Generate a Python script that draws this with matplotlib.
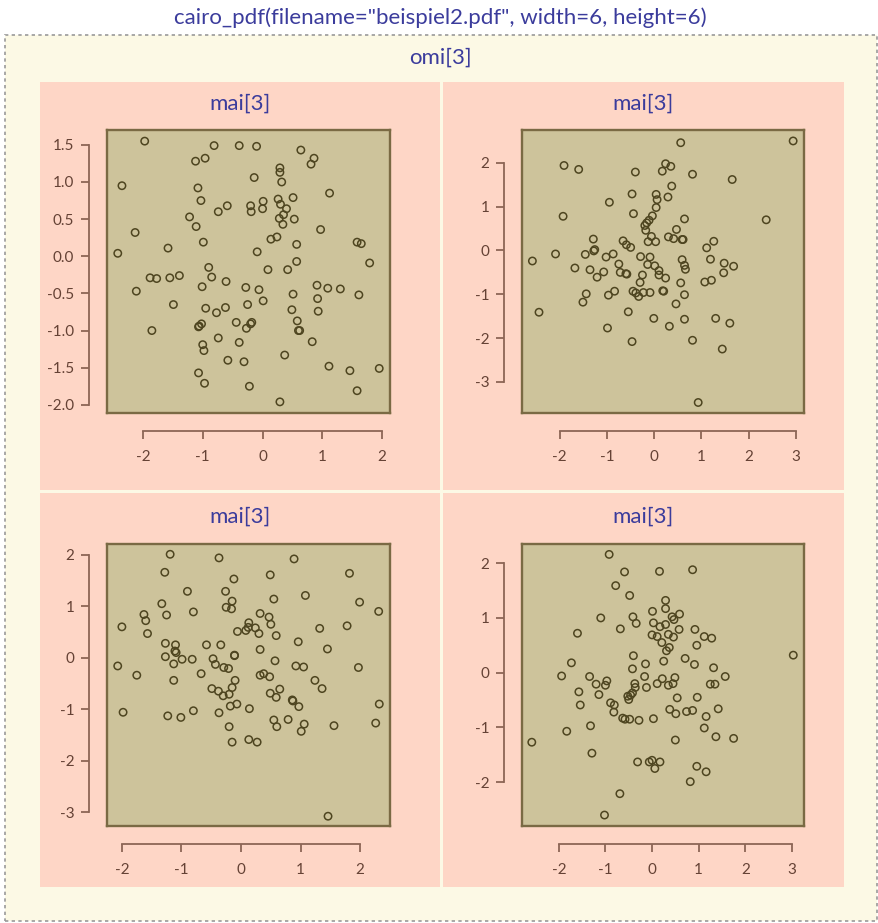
import matplotlib
matplotlib.use('Agg')
import matplotlib.pyplot as plt
from matplotlib.patches import Rectangle

plt.rcParams['font.family'] = ['Lato', 'DejaVu Sans']
plt.rcParams['axes.unicode_minus'] = False

W, H = 879, 923

# ---- data ----
p1_x = [-1.97, -2.35, -2.42, -2.13, -2.11, -1.85, -1.88, -1.77, -1.58, -1.55,
        -1.39, -1.49, -1.12, -0.96, -0.81, -1.08, -1.03, -1.22, -1.11, -0.99,
        -0.74, -0.59, -0.90, -0.85, -1.01, -0.61, -0.95, -0.77, -0.62, -1.07,
        -1.02, -1.06, -1.00, -0.98, -0.74, -1.07, -0.97, -0.58, -0.39, -0.10,
        -0.14, -0.20, -0.19, 0.01, 0.00, -0.09, -0.44, -0.28, -0.25, -0.27,
        -0.20, -0.18, -0.39, -0.31, -0.22, -0.06, 0.01, 0.09, 0.14, 0.24,
        0.29, 0.29, 0.32, 0.26, 0.30, 0.51, 0.40, 0.35, 0.28, 0.34,
        0.53, 0.64, 0.81, 0.86, 1.12, 0.97, 0.57, 0.57, 0.42, 0.51,
        0.49, 0.58, 0.60, 0.62, 0.37, 0.29, 0.91, 0.92, 0.93, 0.83,
        1.09, 1.30, 1.11, 1.58, 1.65, 1.79, 1.61, 1.46, 1.58, 1.95]
p1_y = [1.55, 0.95, 0.04, 0.32, -0.47, -1.00, -0.29, -0.30, 0.11, -0.29,
        -0.26, -0.65, 1.28, 1.32, 1.49, 0.92, 0.75, 0.53, 0.40, 0.19,
        0.60, 0.68, -0.15, -0.28, -0.41, -0.34, -0.70, -0.76, -0.69, -0.95,
        -0.91, -0.94, -1.19, -1.27, -1.10, -1.57, -1.71, -1.40, 1.49, 1.48,
        1.06, 0.68, 0.60, 0.74, 0.64, 0.06, -0.89, -0.42, -0.65, -0.97,
        -0.91, -0.89, -1.16, -1.42, -1.75, -0.45, -0.60, -0.18, 0.23, 0.26,
        1.19, 1.13, 1.00, 0.77, 0.70, 0.79, 0.64, 0.56, 0.51, 0.43,
        0.50, 1.43, 1.24, 1.32, 0.85, 0.36, 0.16, -0.07, -0.18, -0.51,
        -0.72, -0.87, -1.00, -1.00, -1.33, -1.96, -0.39, -0.57, -0.74, -1.15,
        -0.43, -0.44, -1.48, 0.19, 0.17, -0.09, -0.52, -1.54, -1.81, -1.51]

p2_x = [-2.58, -2.44, -2.09, -1.93, -1.91, -1.60, -1.68, -1.46, -1.36, -1.29,
        -1.28, -1.26, -1.21, -1.07, -1.44, -1.51, -1.02, -0.87, -0.95, -0.75,
        -0.72, -0.60, -0.58, -0.97, -0.84, -0.99, -0.66, -0.59, -0.50, -0.47,
        -0.44, -0.40, -0.55, -0.47, -0.45, -0.33, -0.30, -0.25, -0.29, -0.23,
        -0.20, -0.16, -0.11, -0.18, -0.14, -0.09, -0.09, -0.13, -0.06, 0.03,
        -0.04, 0.04, 0.06, 0.04, 0.01, 0.10, 0.10, 0.24, -0.01, 0.18,
        0.20, 0.17, 0.24, 0.35, 0.37, 0.29, 0.30, 0.41, 0.47, 0.59,
        0.61, 0.64, 0.56, 0.81, 0.59, 0.64, 0.66, 0.56, 0.64, 0.46,
        0.32, 0.64, 0.81, 0.93, 1.07, 1.21, 1.11, 1.26, 1.19, 1.48,
        1.47, 1.68, 1.30, 1.60, 1.44, 1.65, 2.37, 2.94, -0.39]
p2_y = [-0.24, -1.41, -0.08, 0.78, 1.94, 1.85, -0.40, -0.09, -0.44, 0.26,
        -0.01, 0.02, -0.61, -0.49, -0.99, -1.18, -0.15, -0.08, 1.10, -0.31,
        -0.50, -0.53, -0.54, -1.02, -0.93, -1.77, 0.22, 0.13, 0.07, 1.29,
        0.84, 1.79, -1.40, -2.08, -0.93, -1.05, -0.73, -0.56, -0.14, -0.96,
        0.57, 0.63, 0.69, 0.46, -0.32, -0.15, -0.96, 0.20, 0.32, 0.20,
        0.79, 0.98, 1.16, 1.28, -0.35, -0.46, -0.56, -0.63, -1.55, -0.92,
        -0.93, 1.81, 1.98, 1.92, 1.47, 1.22, 0.31, 0.27, 0.48, 0.25,
        0.25, 0.72, 2.46, 1.74, -0.21, -0.34, -0.43, -0.74, -1.01, -1.22,
        -1.73, -1.57, -2.05, -3.47, -0.72, -0.68, 0.06, 0.21, -0.20, -0.29,
        -0.51, -0.36, -1.55, -1.66, -2.25, 1.62, 0.70, 2.50, -0.97]

p3_x = [-2.00, -2.07, -1.98, -1.75, -1.63, -1.60, -1.57, -1.33, -1.28, -1.19,
        -1.25, -1.27, -1.27, -1.10, -1.11, -1.09, -1.13, -0.99, -1.13, -1.23,
        -1.01, -0.90, -0.80, -0.82, -0.80, -0.67, -0.58, -0.47, -0.43, -0.34,
        -0.37, -0.26, -0.15, -0.16, -0.25, -0.12, -0.29, -0.21, -0.11, -0.11,
        -0.06, -0.10, -0.15, -0.49, -0.38, -0.30, -0.20, -0.18, -0.07, -0.37,
        -0.20, -0.15, 0.08, 0.13, 0.12, 0.24, 0.30, 0.32, 0.32, 0.14,
        0.13, 0.27, 0.32, 0.38, 0.48, 0.49, 0.47, 0.50, 0.55, 0.59,
        0.57, 0.49, 0.59, 0.65, 0.55, 0.60, 0.79, 0.89, 0.96, 0.92,
        1.05, 1.08, 0.86, 0.87, 0.97, 1.06, 1.01, 1.24, 1.36, 1.32,
        1.45, 1.46, 1.56, 1.78, 1.82, 1.97, 1.99, 2.26, 2.31, 2.32]
p3_y = [0.60, -0.16, -1.06, -0.34, 0.84, 0.72, 0.47, 1.05, 1.66, 2.01,
        0.83, 0.28, 0.02, 0.25, 0.13, 0.10, -0.12, -0.03, -0.44, -1.13,
        -1.16, 1.29, 0.89, -0.03, -1.03, -0.31, 0.25, -0.02, -0.13, 0.25,
        1.94, 1.29, 1.10, 0.95, 0.98, 1.53, -0.19, -0.21, 0.04, 0.05,
        0.51, -0.44, -0.58, -0.60, -0.65, -0.74, -0.71, -0.94, -0.90, -1.07,
        -1.34, -1.64, 0.53, 0.68, 0.59, 0.58, 0.47, 0.86, 0.16, -0.99,
        -1.59, -1.64, -0.34, -0.31, -0.37, 1.61, 0.79, 0.65, 1.14, 0.43,
        -0.06, -0.69, -0.77, -0.61, -1.21, -1.34, -1.20, 1.92, 0.31, -0.16,
        -0.18, 1.21, -0.82, -0.84, -0.95, -1.29, -1.43, -0.44, -0.60, 0.57,
        0.17, -3.08, -1.32, 0.62, 1.64, -0.19, 1.08, -1.27, 0.90, -0.90]

p4_x = [-2.58, -1.94, -1.83, -1.73, -1.60, -1.57, -1.54, -1.34, -1.32, -1.29,
        -1.20, -1.14, -1.10, -1.00, -0.97, -1.02, -0.92, -0.89, -0.81, -0.82,
        -0.78, -0.68, -0.69, -0.63, -0.58, -0.59, -0.48, -0.48, -0.52, -0.50,
        -0.46, -0.42, -0.41, -0.34, -0.40, -0.42, -0.37, -0.36, -0.28, -0.31,
        -0.14, -0.16, -0.12, -0.06, 0.00, 0.06, 0.17, 0.03, 0.01, 0.03,
        0.00, 0.11, 0.17, 0.21, 0.11, 0.22, 0.16, 0.29, 0.29, 0.29,
        0.35, 0.37, 0.31, 0.25, 0.35, 0.45, 0.49, 0.38, 0.51, 0.54,
        0.50, 0.43, 0.47, 0.59, 0.58, 0.46, 0.71, 0.74, 0.87, 0.87,
        0.92, 0.96, 0.91, 0.97, 0.96, 0.82, 1.12, 1.28, 1.32, 1.25,
        1.35, 1.16, 1.12, 1.42, 1.57, 1.37, 1.75, 1.16, 3.03]
p4_y = [-1.27, -0.06, -1.07, 0.18, 0.72, -0.35, -0.59, -0.07, -0.97, -1.47,
        -0.21, -0.40, 1.00, -0.23, -0.15, -2.60, 2.16, -0.55, -0.59, -0.72,
        1.59, 0.80, -2.21, -0.83, -0.85, 1.84, 1.41, -0.85, -0.43, -0.49,
        -0.41, -0.37, 1.02, 0.90, 0.31, 0.07, -0.20, -0.27, -0.87, -1.63,
        0.16, -0.07, -0.27, -1.63, -1.60, -1.75, -1.63, -0.84, 1.12, 0.91,
        0.69, 0.66, 0.84, 0.55, -0.20, -0.11, 1.85, 1.32, 1.17, 0.88,
        0.70, 0.46, 0.40, 0.21, -0.23, -0.20, -0.09, -0.67, -0.75, -0.46,
        -1.23, 1.02, 0.97, 1.07, 0.79, 0.65, 0.26, -0.71, -0.69, 1.88,
        0.79, 0.50, 0.15, -0.45, -1.71, -1.99, 0.66, 0.63, 0.09, -0.21,
        -0.21, -0.80, -1.01, -0.66, -0.07, -1.17, -1.20, -1.81, 0.32]

p1_xticks = [-2, -1, 0, 1, 2]
p1_yticks = [-2.0, -1.5, -1.0, -0.5, 0.0, 0.5, 1.0, 1.5]
p1_ylabels = ['-2.0', '-1.5', '-1.0', '-0.5', '0.0', '0.5', '1.0', '1.5']
p2_xticks = [-2, -1, 0, 1, 2, 3]
p2_yticks = [-3, -2, -1, 0, 1, 2]
p3_xticks = [-2, -1, 0, 1, 2]
p3_yticks = [-3, -2, -1, 0, 1, 2]
p4_xticks = [-2, -1, 0, 1, 2, 3]
p4_yticks = [-2, -1, 0, 1, 2]

title = 'cairo_pdf(filename="beispiel2.pdf", width=6, height=6)'

# colours
white = '#ffffff'
cream = '#fcf9e5'
salmon = '#fed6c6'
khaki = '#cdc39b'
boxedge = '#7a6a44'
axcol = '#8c6656'
labcol = '#654235'
ptcol = '#4e4520'
blue = '#3b3c9c'


def frac(x0, y0, x1, y1):
    return [x0 / W, 1 - y1 / H, (x1 - x0) / W, (y1 - y0) / H]


def rect(x0, y0, x1, y1, **kw):
    l, b, w, h = frac(x0, y0, x1, y1)
    fig.add_artist(Rectangle((l, b), w, h, transform=fig.transFigure, zorder=-10, **kw))


def draw_panel(box, xs, ys, xlim, ylim, xticks, yticks, ylabels=None):
    frame = fig.add_axes(frac(*box))
    frame.set_facecolor(khaki)
    frame.set_xticks([])
    frame.set_yticks([])
    for sp in frame.spines.values():
        sp.set_color(boxedge)
        sp.set_linewidth(1.7)

    ax = fig.add_axes(frac(*box))
    ax.patch.set_alpha(0)
    ax.scatter(xs, ys, s=28, facecolors='none', edgecolors=ptcol, linewidths=1.1, zorder=3)
    ax.set_xlim(xlim)
    ax.set_ylim(ylim)
    ax.spines['top'].set_visible(False)
    ax.spines['right'].set_visible(False)
    for side in ['left', 'bottom']:
        ax.spines[side].set_position(('outward', 13))
        ax.spines[side].set_color(axcol)
        ax.spines[side].set_linewidth(1.3)
    ax.spines['bottom'].set_bounds(min(xticks), max(xticks))
    ax.spines['left'].set_bounds(min(yticks), max(yticks))
    ax.set_xticks(xticks)
    ax.set_yticks(yticks)
    if ylabels is not None:
        ax.set_yticklabels(ylabels)
    ax.tick_params(axis='both', length=5.5, width=1.3, color=axcol,
                   labelcolor=labcol, labelsize=11)
    ax.tick_params(axis='x', pad=8)
    ax.tick_params(axis='y', pad=5)
    return ax


fig = plt.figure(figsize=(W / 100, H / 100), dpi=100)
fig.patch.set_facecolor(white)

# outer (device) region with dashed border
rect(5, 35, 877, 921, facecolor=cream, edgecolor='#9a9a9a', linewidth=1.2,
     linestyle=(0, (2, 2)))

# figure regions (mai) in salmon
rect(40, 82, 440, 490, facecolor=salmon, edgecolor='none')
rect(443, 82, 844, 490, facecolor=salmon, edgecolor='none')
rect(40, 493, 440, 887, facecolor=salmon, edgecolor='none')
rect(443, 493, 844, 887, facecolor=salmon, edgecolor='none')

fig.text(440 / W, 1 - 18 / H, title, ha='center', va='center', color=blue, fontsize=16)
fig.text(440 / W, 1 - 58 / H, 'omi[3]', ha='center', va='center', color=blue, fontsize=16)
for cx, cy in [(240, 104), (643, 104), (240, 517), (643, 517)]:
    fig.text(cx / W, 1 - cy / H, 'mai[3]', ha='center', va='center', color=blue, fontsize=16)

draw_panel((107, 130, 390, 413), p1_x, p1_y, (-2.60, 2.13), (-2.11, 1.70),
           p1_xticks, p1_yticks, p1_ylabels)
draw_panel((522, 130, 804, 413), p2_x, p2_y, (-2.80, 3.17), (-3.71, 2.75),
           p2_xticks, p2_yticks)
draw_panel((107, 544, 390, 826), p3_x, p3_y, (-2.25, 2.50), (-3.27, 2.21),
           p3_xticks, p3_yticks)
draw_panel((522, 544, 804, 826), p4_x, p4_y, (-2.79, 3.26), (-2.80, 2.35),
           p4_xticks, p4_yticks)

plt.savefig('out.png', dpi=100)
